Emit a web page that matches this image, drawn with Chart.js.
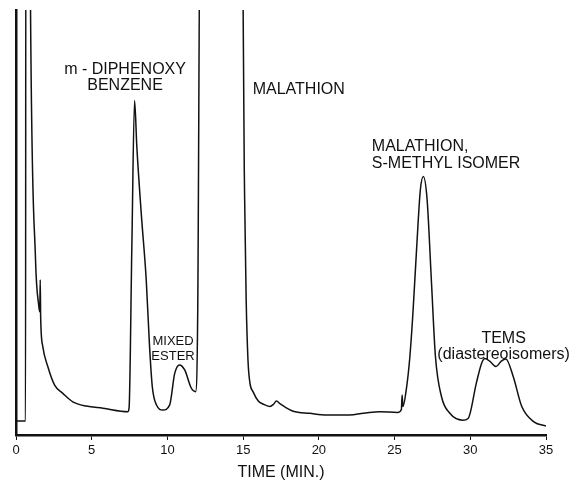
<!DOCTYPE html>
<html>
<head>
<meta charset="utf-8">
<script src="https://cdn.jsdelivr.net/npm/chart.js@4.4.1/dist/chart.umd.min.js"></script>
<style>
    html, body { margin: 0; padding: 0; background: #fff; }
    #grafico { display: block; }
</style>
</head>
<body>
<canvas id="grafico" width="579" height="483"></canvas>
<script>
// --- Data ---

// retention time (min)
const tempos = [
    0, 0.63, 0.65, 0.92, 0.96, 1.29, 1.51, 1.57, 1.6, 1.63, 1.77, 2.1, 2.54, 3.09, 3.75, 4.64, 5.74, 7.39,
    7.47, 7.65, 7.83, 7.98, 8.27, 8.6, 8.82, 9.0, 9.27, 9.7, 10.15, 10.48, 10.8, 11.14, 11.58, 11.86,
    12.0, 12.17, 14.98, 15.0, 15.1, 15.2, 15.32, 15.45, 15.65, 16.0, 16.3, 16.75, 17.0, 17.2, 17.45, 17.75,
    18.3, 19.4, 20.5, 22.0, 23.1, 24.0, 25.2, 25.45, 25.5, 25.55, 25.8, 26.0, 26.2, 26.45, 26.7, 26.9,
    27.15, 27.44, 27.7, 28.1, 28.65, 29.5, 29.86, 30.4, 30.75, 30.97, 31.3, 31.7, 32.05, 32.35, 32.84,
    33.4, 34.2, 35.0
];

// detector response (arbitrary units, 100 = top of the paper; peaks above run off scale)
const sinal = [
    3.3, 3.3, 130, 130, 100, 41.2, 30.2, 29, 36.5, 27.5, 20.8, 16.1, 11.8, 9.8, 7.8, 6.8, 6.3, 5.5,
    6.5, 44.3, 78.7, 67.8, 52.2, 36.5, 20.8, 11.4, 7.1, 5.9, 7.1, 14.5, 16.5, 15.3, 11.0, 10.2,
    28.7, 130, 130, 100, 55.3, 31.8, 17.6, 12.2, 10.2, 8.0, 7.3, 6.7, 7.2, 8.0, 7.3, 6.6,
    5.6, 5.1, 4.7, 4.7, 5.2, 5.5, 5.3, 6.0, 9.4, 6.7, 11.4, 18, 28, 43.5, 57.6, 60.8,
    55.3, 35.7, 18.4, 9.0, 5.1, 3.5, 3.9, 12.2, 16.9, 18.0, 17.3, 16.1, 17.4, 17.9, 13.7,
    6.7, 3.1, 2.1
];

const ticksTempo = [0, 5, 10, 15, 20, 25, 30, 35];

// peak names, one entry per label block
const nomesPicos = [
    ['m - DIPHENOXY', 'BENZENE'],
    ['MIXED', 'ESTER'],
    ['MALATHION'],
    ['MALATHION,', 'S-METHYL ISOMER'],
    ['TEMS', '(diastereoisomers)']
];

// where each label block sits (data units) and how it is set
const posicoesRotulos = [
    { t: 7.2,   v: 85.9, align: 'center', size: 16, gap: 16 },
    { t: 10.37, v: 22.1, align: 'center', size: 13, gap: 15 },
    { t: 15.63, v: 81.2, align: 'left',   size: 16, gap: 16 },
    { t: 23.5,  v: 67.8, align: 'left',   size: 16, gap: 17 },
    { t: 32.2,  v: 22.8, align: 'center', size: 16, gap: 16 }
];

const FONTE = '"Liberation Sans", Arial, sans-serif';

// --- Plugin que escreve os nomes dos picos ---
const rotulosPlugin = {
    id: 'rotulos',
    afterDatasetsDraw(chart) {
        const ctx = chart.ctx;
        const x = chart.scales.x;
        const y = chart.scales.y;
        ctx.save();
        ctx.fillStyle = '#111';
        ctx.textBaseline = 'middle';
        nomesPicos.forEach((linhas, i) => {
            const p = posicoesRotulos[i];
            ctx.font = p.size + 'px ' + FONTE;
            ctx.textAlign = p.align;
            const px = x.getPixelForValue(p.t);
            const py = y.getPixelForValue(p.v);
            linhas.forEach((txt, j) => {
                ctx.fillText(txt, px, py + j * p.gap);
            });
        });
        ctx.restore();
    }
};

document.addEventListener('DOMContentLoaded', () => {
    const ctx = document.getElementById('grafico').getContext('2d');

    new Chart(ctx, {
        type: 'line',
        data: {
            datasets: [{
                data: tempos.map((t, i) => ({ x: t, y: sinal[i] })),
                borderColor: '#111',
                borderWidth: 1.5,
                pointRadius: 0,
                cubicInterpolationMode: 'monotone',
                fill: false
            }]
        },
        options: {
            responsive: false,
            animation: false,
            layout: { padding: { left: 16, right: 33, top: 10, bottom: 0 } },
            plugins: {
                legend: { display: false },
                tooltip: { enabled: false }
            },
            scales: {
                x: {
                    type: 'linear',
                    min: 0,
                    max: 35,
                    afterBuildTicks: (scale) => {
                        scale.ticks = ticksTempo.map(v => ({ value: v }));
                    },
                    afterFit: (scale) => { scale.height = 48; },
                    ticks: {
                        color: '#111',
                        padding: 3,
                        maxRotation: 0,
                        font: { size: 13, family: FONTE }
                    },
                    grid: {
                        drawOnChartArea: false,
                        drawTicks: true,
                        tickLength: 5,
                        color: '#111',
                        lineWidth: 1
                    },
                    border: { display: true, color: '#111', width: 2.5 },
                    title: {
                        display: true,
                        text: 'TIME (MIN.)',
                        color: '#111',
                        padding: { top: 0, bottom: 1 },
                        font: { size: 16, family: FONTE }
                    }
                },
                y: {
                    min: 0,
                    max: 100,
                    afterFit: (scale) => { scale.width = 0; },
                    ticks: { display: false },
                    grid: { drawOnChartArea: false, drawTicks: false },
                    border: { display: true, color: '#111', width: 2.5 }
                }
            }
        },
        plugins: [rotulosPlugin]
    });
});
</script>
</body>
</html>
